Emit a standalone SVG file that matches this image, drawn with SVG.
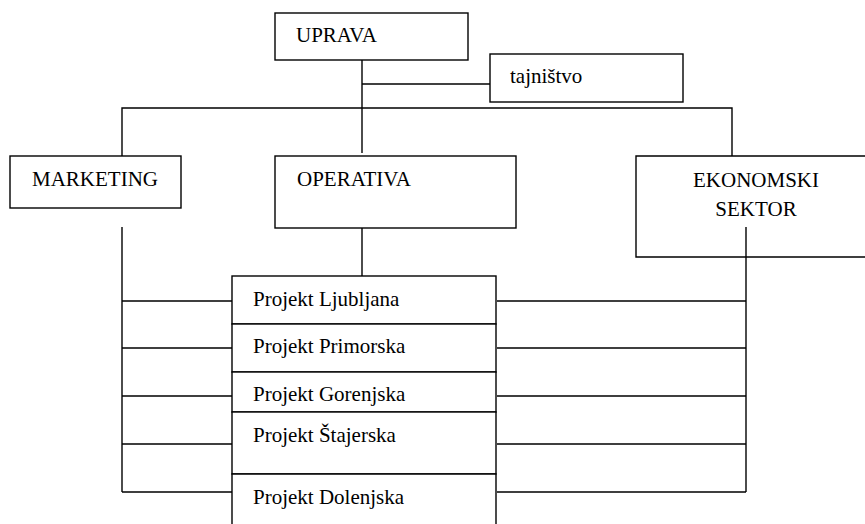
<svg xmlns="http://www.w3.org/2000/svg" width="865" height="524" viewBox="0 0 865 524">
<style>
.box{fill:#fff;stroke:#000;stroke-width:1.4}
.ln{fill:none;stroke:#000;stroke-width:1.4}
.t{font-family:'Liberation Serif',Tinos,'DejaVu Serif',serif;font-size:21px;fill:#000}
</style>
<rect width="865" height="524" fill="#fff"/>
<g id="connectors" class="ln">
<path d="M362 60V153"/>
<path d="M362 84H490"/>
<path d="M122 156V108H732V156"/>
<path d="M362 228V276"/>
<path d="M122 227V492"/>
<path d="M122 301H232M122 348H232M122 396H232M122 444H232M122 492H232"/>
<path d="M746 227V492"/>
<path d="M497 301H746M497 348H746M497 396H746M497 444H746M497 492H746"/>
</g>
<g id="uprava"><rect class="box" x="275" y="13" width="193" height="47"/><text class="t" font-family="Liberation Serif, serif" x="296" y="42">UPRAVA</text></g>
<g id="tajnistvo"><rect class="box" x="490" y="54" width="193" height="48"/><text class="t" x="510" y="83">tajništvo</text></g>
<g id="marketing"><rect class="box" x="10" y="156" width="171" height="52"/><text class="t" x="32" y="186">MARKETING</text></g>
<g id="operativa"><rect class="box" x="275" y="156" width="241" height="72"/><text class="t" x="297" y="186">OPERATIVA</text></g>
<g id="ekonomski"><path class="box" d="M870 156H636V257H870"/><text class="t" x="756" y="187" text-anchor="middle">EKONOMSKI</text><text class="t" x="756" y="216" text-anchor="middle">SEKTOR</text><path class="ln" d="M746 227V257"/></g>
<g id="ljubljana"><rect class="box" x="232" y="276" width="264" height="48"/><text class="t" x="253" y="306">Projekt Ljubljana</text></g>
<g id="primorska"><rect class="box" x="232" y="324" width="264" height="48"/><text class="t" x="253" y="353">Projekt Primorska</text></g>
<g id="gorenjska"><rect class="box" x="232" y="372" width="264" height="40"/><text class="t" x="253" y="401">Projekt Gorenjska</text></g>
<g id="stajerska"><rect class="box" x="232" y="412" width="264" height="62"/><text class="t" x="253" y="442">Projekt Štajerska</text></g>
<g id="dolenjska"><path class="box" d="M232 530V474H496V530"/><text class="t" x="253" y="504">Projekt Dolenjska</text></g>
</svg>
